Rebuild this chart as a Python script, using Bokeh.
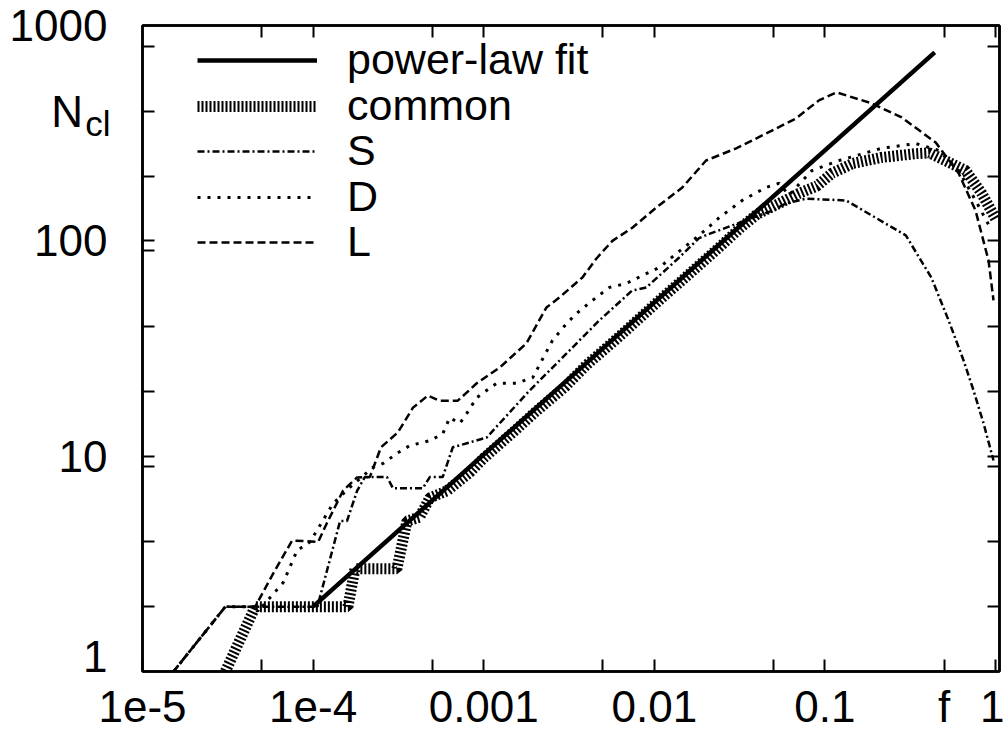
from bokeh.plotting import figure
from bokeh.models import LogAxis, FixedTicker, Legend, LegendItem, Range1d
from bokeh.embed import file_html
from bokeh.resources import INLINE

# ---------------- data ----------------
f_fit = [1e-4, 0.44]
N_fit = [2, 750]

f_common = [3.06e-5, 4.58e-5, 1.6e-4, 1.76e-4, 3.1e-4, 3.55e-4, 4.2e-4, 4.83e-4, 6.08e-4,
            8.28e-4, 1e-3, 1.5e-3, 2e-3, 3e-3, 4e-3, 6e-3, 8e-3, 0.011, 0.015, 0.02, 0.025,
            0.032, 0.04, 0.0538, 0.0705, 0.09, 0.11, 0.146, 0.215, 0.34, 0.41, 0.48, 0.668,
            0.83, 1.0]
N_common = [1, 2, 2, 3, 3, 5, 5.2, 6.4, 6.9, 8.4, 9.8, 13, 16, 21, 26.5, 35, 43, 54, 67, 82,
            96, 115, 133, 149, 166, 180, 206, 229, 244, 254, 256, 241, 212, 166, 127]

f_S = [1.52e-5, 3.06e-5, 1.06e-4, 1.44e-4, 1.58e-4, 1.81e-4, 2.01e-4, 2.71e-4, 2.94e-4,
       4.4e-4, 4.83e-4, 5.75e-4, 6.59e-4, 1.04e-3, 1.86e-3, 3.06e-3, 4.76e-3, 7.4e-3,
       8.98e-3, 0.014, 0.0183, 0.0212, 0.049, 0.059, 0.0777, 0.133, 0.298, 0.42, 0.531,
       0.65, 0.743, 0.851, 0.973]
N_S = [1, 2, 2, 5, 5, 6.9, 8, 8, 7.1, 7.1, 8, 8, 11, 12.2, 20.2, 30, 42.7, 58.7, 60.7, 83.7,
       103, 108, 138, 149, 157, 154, 106, 67.6, 42.7, 27.8, 20.2, 14.2, 9.55]

f_D = [1.52e-5, 3.06e-5, 5.03e-5, 6.68e-5, 8.06e-5, 9.6e-5, 1.31e-4, 1.64e-4, 2.24e-4,
       2.57e-4, 3.1e-4, 3.69e-4, 4.83e-4, 5.75e-4, 6.32e-4, 7.24e-4, 7.96e-4, 9.1e-4,
       1.19e-3, 1.56e-3, 1.94e-3, 2.53e-3, 3.06e-3, 3.5e-3, 4.34e-3, 5.46e-3, 6.86e-3,
       8.51e-3, 0.0107, 0.0135, 0.0183, 0.024, 0.0327, 0.0452, 0.0538, 0.0615, 0.0839,
       0.121, 0.215, 0.34, 0.464, 0.608, 0.764, 0.948]
N_D = [1, 2, 2, 2.59, 3.65, 4, 6.03, 7.16, 8.87, 9.25, 10.3, 11.2, 11.8, 12.7, 15.1, 14.2,
       15.8, 18.7, 21.8, 21.8, 23.2, 34.5, 41.3, 46, 52.9, 60.8, 63.4, 69, 75.2, 87.4, 106,
       128, 154, 177, 185, 163, 212, 236, 269, 283, 263, 212, 154, 112]

f_L = [1.52e-5, 3.06e-5, 4.58e-5, 5.83e-5, 7.54e-5, 1.07e-4, 1.21e-4, 1.5e-4, 1.81e-4,
       2.15e-4, 2.5e-4, 3.14e-4, 3.85e-4, 4.7e-4, 5.5e-4, 7.05e-4, 9.1e-4, 1.24e-3, 1.78e-3,
       2.33e-3, 2.78e-3, 3.79e-3, 4.58e-3, 5.68e-3, 7.43e-3, 0.0103, 0.0146, 0.0201, 0.0302,
       0.0452, 0.0676, 0.0922, 0.117, 0.188, 0.282, 0.446, 0.608, 0.764, 0.91, 0.973]
N_L = [1, 2, 2, 2.85, 4.06, 4, 4.92, 6.93, 7.96, 8, 11, 12.9, 16.8, 19.1, 18.1, 18.1, 21.8,
       25.8, 33.4, 49, 54.6, 67.6, 82.8, 100, 115, 143, 177, 236, 269, 315, 370, 449, 489,
       435, 374, 286, 206, 138, 81, 52.9]

# x axis: labelled ticks (major) and unlabelled ticks (minor, same length)
x_major = [1e-5, 1e-4, 1e-3, 1e-2, 0.1, 0.5, 1.0]
x_major_labels = ["1e-5", "1e-4", "0.001", "0.01", "0.1", "f", "1"]
x_minor = [5e-5, 5e-4, 5e-3, 5e-2]
# y axis: tick marks, and the label column (value at which each text sits)
y_marks_left = [2, 4, 9, 10, 20, 40, 90, 100, 200, 400, 800]
y_marks_right = [2, 4, 9, 10, 20, 40, 80, 100, 200, 400, 800]
y_label_pos = [1.174, 10, 100, 400, 1000]
y_labels = ["1", "10", "100", "N\u00a0\u00a0", "1000"]
y_sub_pos = [350]
y_sub_labels = ["cl"]

legend_labels = ["power-law fit", "common", "S", "D", "L"]

FONT = "Liberation Sans"
FS = "44px"
FS_SUB = "35px"
FS_LEG = "43px"

p = figure(width=1004, height=738, x_axis_type="log", y_axis_type="log",
           x_range=Range1d(1e-5, 1.055), y_range=Range1d(1, 1000),
           output_backend="svg", toolbar_location=None,
           min_border_left=142, min_border_right=5, min_border_top=25,
           min_border_bottom=67)
p.grid.visible = False
p.outline_line_color = "black"
p.outline_line_width = 2.5
p.background_fill_color = "white"
p.border_fill_color = "white"

def style_axis(ax, major_len=12):
    ax.axis_line_width = 2.5
    ax.axis_line_color = "black"
    ax.major_tick_in = major_len
    ax.major_tick_out = 0
    ax.minor_tick_in = 12
    ax.minor_tick_out = 0
    for kind in ("major", "minor"):
        setattr(ax, kind + "_tick_line_width", 2)
        setattr(ax, kind + "_tick_line_color", "black")
    ax.major_label_text_font = FONT
    ax.major_label_text_font_size = FS
    ax.major_label_text_color = "black"

# bottom axis
xb = p.xaxis[0]
xb.ticker = FixedTicker(ticks=x_major, minor_ticks=x_minor)
xb.major_label_overrides = dict(zip(x_major, x_major_labels))
style_axis(xb)
xb.major_label_standoff = 10

# left axis next to the frame: all tick marks, and the subscript "cl"
yl = p.yaxis[0]
yl.ticker = FixedTicker(ticks=y_sub_pos, minor_ticks=y_marks_left)
yl.major_label_overrides = dict(zip(y_sub_pos, y_sub_labels))
style_axis(yl, major_len=0)
yl.major_label_text_font_size = FS_SUB
yl.major_label_standoff = 32

# outer left axis: only the label column ("1", "10", "100", "N", "1000")
yl2 = LogAxis(ticker=FixedTicker(ticks=y_label_pos, minor_ticks=[]))
style_axis(yl2, major_len=0)
yl2.axis_line_color = None
yl2.major_tick_line_color = None
yl2.minor_tick_line_color = None
yl2.major_label_overrides = dict(zip(y_label_pos, y_labels))
yl2.major_label_standoff = -25
p.add_layout(yl2, "left")

# mirrored tick marks on top and right
xt = LogAxis(ticker=FixedTicker(ticks=[], minor_ticks=x_major[1:-1] + x_minor + [1.0]))
style_axis(xt)
p.add_layout(xt, "above")

yr = LogAxis(ticker=FixedTicker(ticks=[], minor_ticks=y_marks_right))
style_axis(yr)
p.add_layout(yr, "right")

r_common = p.line(f_common, N_common, line_color="black", line_width=11, line_dash="2 2")
r_S = p.line(f_S, N_S, line_color="black", line_width=2.5, line_dash="7 3 2 3")
r_D = p.line(f_D, N_D, line_color="black", line_width=3, line_dash="3 7")
r_L = p.line(f_L, N_L, line_color="black", line_width=2.5, line_dash="8 4")
r_fit = p.line(f_fit, N_fit, line_color="black", line_width=4.5)

rends = [r_fit, r_common, r_S, r_D, r_L]
legend_vy = [587, 541, 496, 450, 405]
for lab, r, vy in zip(legend_labels, rends, legend_vy):
    lg = Legend(items=[LegendItem(label=lab, renderers=[r])],
                location=(55, vy), orientation="vertical",
                glyph_width=120, glyph_height=20, label_height=20,
                label_standoff=30, padding=0, margin=0, spacing=0,
                label_text_font=FONT, label_text_font_size=FS_LEG,
                label_text_color="black",
                background_fill_alpha=0, border_line_alpha=0)
    p.add_layout(lg)

open("out.html", "w").write(file_html(p, INLINE))
